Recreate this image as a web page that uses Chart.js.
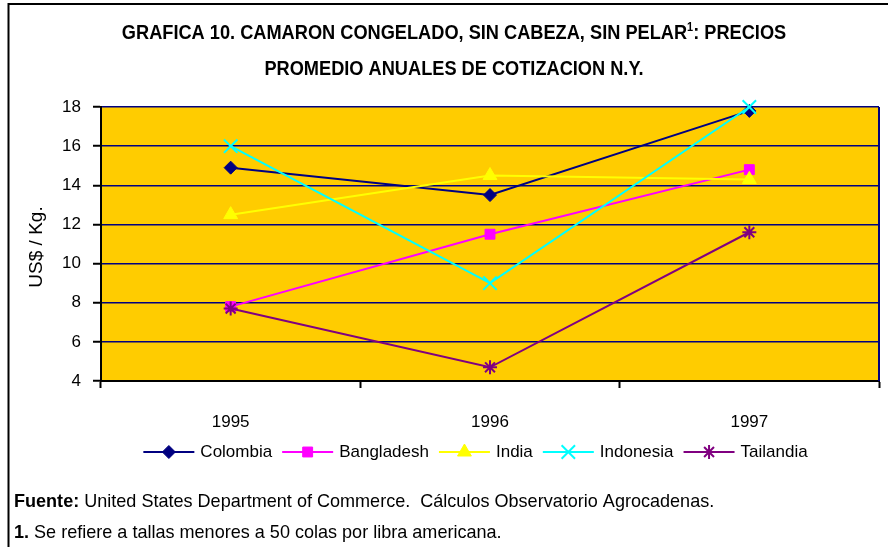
<!DOCTYPE html>
<html>
<head>
<meta charset="utf-8">
<script src="https://cdn.jsdelivr.net/npm/chart.js@4.4.0/dist/chart.umd.min.js"></script>
<style>
  html, body { margin: 0; padding: 0; background: #fff; }
  #wrap { width: 888px; height: 547px; }
</style>
</head>
<body>
<div id="wrap"><canvas id="camaronChart" width="888" height="547"></canvas></div>
<script>
// Data
const years = ['1995', '1996', '1997'];
const colombia = [14.9, 13.5, 17.8];
const bangladesh = [7.8, 11.5, 14.8];
const india = [12.5, 14.5, 14.3];
const indonesia = [16.0, 9.0, 18.0];
const tailandia = [7.7, 4.7, 11.6];
const yTicks = [4, 6, 8, 10, 12, 14, 16, 18];

const FONT = "'Liberation Sans', Arial, sans-serif";
const NAVY = '#000080';

function serie(label, data, color, style, radius, order) {
  return {
    label: label,
    data: data,
    borderColor: color,
    backgroundColor: color,
    borderWidth: 2,
    pointStyle: style,
    pointRadius: radius,
    pointHoverRadius: radius,
    pointBackgroundColor: color,
    pointBorderColor: color,
    pointBorderWidth: (style === 'crossRot' || style === 'star') ? 2 : 1,
    tension: 0,
    fill: false,
    clip: false,
    order: order,
  };
}

// text squeezed horizontally (the original uses a narrow face)
function narrowText(ctx, parts, x, y, align, sx) {
  // parts: [[text, font, dy]]
  let w = 0;
  parts.forEach(p => { ctx.font = p[1]; w += ctx.measureText(p[0]).width; });
  let start = align === 'center' ? x - (w * sx) / 2 : x;
  ctx.save();
  ctx.translate(start, y);
  ctx.scale(sx, 1);
  ctx.textAlign = 'left';
  ctx.textBaseline = 'alphabetic';
  let cx = 0;
  parts.forEach(p => {
    ctx.font = p[1];
    ctx.fillText(p[0], cx, p[2] || 0);
    cx += ctx.measureText(p[0]).width;
  });
  ctx.restore();
}

// background, frame, title, y title, legend and footer
const decor = {
  id: 'decor',
  beforeDraw(chart) {
    const { ctx, chartArea: a, width, height } = chart;
    ctx.save();
    ctx.fillStyle = '#fff';
    ctx.fillRect(0, 0, width, height);
    ctx.fillStyle = '#FFCC00';
    ctx.fillRect(a.left, a.top, a.right - a.left, a.bottom - a.top);
    ctx.restore();
  },
  afterDraw(chart) {
    const { ctx, chartArea: a } = chart;
    ctx.save();

    // right border of plot
    ctx.strokeStyle = NAVY;
    ctx.lineWidth = 2;
    ctx.beginPath();
    ctx.moveTo(a.right, a.top);
    ctx.lineTo(a.right, a.bottom);
    ctx.stroke();

    // outer frame (left + top)
    ctx.strokeStyle = '#000';
    ctx.lineWidth = 2;
    ctx.beginPath();
    ctx.moveTo(8.5, 547);
    ctx.lineTo(8.5, 4);
    ctx.lineTo(888, 4);
    ctx.stroke();

    ctx.fillStyle = '#000';

    // title
    const tf = 'bold 20px ' + FONT;
    narrowText(ctx, [
      ['GRAFICA 10. CAMARON CONGELADO, SIN CABEZA, SIN PELAR', tf],
      ['1', 'bold 12px ' + FONT, -8],
      [': PRECIOS', tf],
    ], 454, 39, 'center', 0.91);
    narrowText(ctx, [['PROMEDIO ANUALES DE COTIZACION N.Y.', tf]], 454, 75, 'center', 0.91);

    // y axis title
    ctx.font = '19px ' + FONT;
    ctx.textAlign = 'center';
    ctx.textBaseline = 'middle';
    ctx.translate(37, 247);
    ctx.rotate(-Math.PI / 2);
    ctx.fillText('US$ / Kg.', 0, 0);
    ctx.setTransform(1, 0, 0, 1, 0, 0);

    // legend: line + marker + label
    const lineLen = 51, gapText = 6, gapItem = 10;
    ctx.font = '17px ' + FONT;
    const sets = chart.data.datasets;
    let total = 0;
    sets.forEach((ds, i) => {
      total += lineLen + gapText + ctx.measureText(ds.label).width;
      if (i < sets.length - 1) total += gapItem;
    });
    let x = 475.5 - total / 2;
    const ly = 452;
    sets.forEach((ds) => {
      ctx.strokeStyle = ds.borderColor;
      ctx.lineWidth = 2;
      ctx.beginPath();
      ctx.moveTo(x, ly);
      ctx.lineTo(x + lineLen, ly);
      ctx.stroke();
      ctx.fillStyle = ds.pointBackgroundColor;
      ctx.strokeStyle = ds.pointBorderColor;
      ctx.lineWidth = ds.pointBorderWidth;
      Chart.helpers.drawPoint(ctx, {
        pointStyle: ds.pointStyle,
        radius: ds.pointRadius,
        borderWidth: ds.pointBorderWidth,
        rotation: 0,
      }, x + lineLen / 2, ly);
      ctx.fillStyle = '#000';
      ctx.textAlign = 'left';
      ctx.textBaseline = 'middle';
      ctx.fillText(ds.label, x + lineLen + gapText, ly);
      x += lineLen + gapText + ctx.measureText(ds.label).width + gapItem;
    });

    // footer
    ctx.fillStyle = '#000';
    narrowText(ctx, [
      ['Fuente:', 'bold 19px ' + FONT],
      [' United States Department of Commerce.  Cálculos Observatorio Agrocadenas.', '19px ' + FONT],
    ], 14, 507, 'left', 0.95);
    narrowText(ctx, [
      ['1.', 'bold 19px ' + FONT],
      [' Se refiere a tallas menores a 50 colas por libra americana.', '19px ' + FONT],
    ], 14, 538, 'left', 0.95);

    ctx.restore();
  },
};

const ctx = document.getElementById('camaronChart').getContext('2d');
const camaronChart = new Chart(ctx, {
  type: 'line',
  data: {
    labels: years,
    datasets: [
      serie('Colombia', colombia, NAVY, 'rectRot', 6.5, 4),
      serie('Bangladesh', bangladesh, '#FF00FF', 'rect', 7, 3),
      serie('India', india, '#FFFF00', 'triangle', 8, 2),
      serie('Indonesia', indonesia, '#00FFFF', 'crossRot', 9.5, 1),
      serie('Tailandia', tailandia, '#800080', 'star', 7, 0),
    ],
  },
  options: {
    responsive: false,
    animation: false,
    devicePixelRatio: 1,
    layout: { autoPadding: false, padding: { left: 20, right: 9, top: 107, bottom: 110 } },
    plugins: {
      legend: { display: false },
      tooltip: { enabled: false },
      title: { display: false },
    },
    scales: {
      x: {
        offset: true,
        afterFit(s) { s.height = 56; },
        grid: {
          offset: true,
          drawOnChartArea: false,
          drawTicks: true,
          tickLength: 7,
          tickColor: '#000',
          tickWidth: 2,
        },
        border: { color: '#000', width: 2 },
        ticks: {
          color: '#000',
          padding: 24,
          font: { family: FONT, size: 17 },
        },
      },
      y: {
        min: 4,
        max: 18,
        afterFit(s) { s.width = 81; },
        afterBuildTicks(s) { s.ticks = yTicks.map(v => ({ value: v })); },
        grid: {
          color: NAVY,
          lineWidth: 1.5,
          tickLength: 8,
          tickColor: '#000',
          tickWidth: 2,
        },
        border: { color: '#000', width: 2 },
        ticks: {
          color: '#000',
          padding: 12,
          font: { family: FONT, size: 17 },
        },
      },
    },
  },
  plugins: [decor],
});
</script>
</body>
</html>
